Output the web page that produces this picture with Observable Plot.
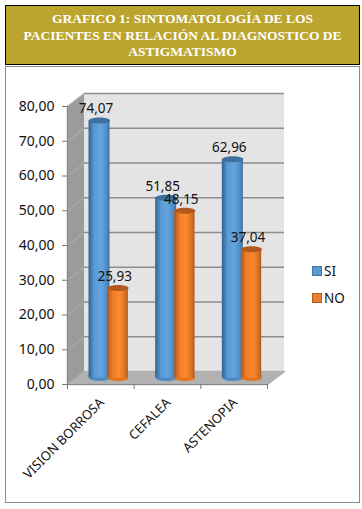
<!DOCTYPE html>
<html><head><meta charset="utf-8">
<script src="https://cdn.jsdelivr.net/npm/d3@7"></script>
<script src="https://cdn.jsdelivr.net/npm/@observablehq/plot@0.6"></script>
<style>
html,body{margin:0;padding:0;background:#fff;width:362px;height:509px;overflow:hidden}
#title{position:absolute;left:5px;top:5px;width:353px;height:53px;border:1px solid #000;background:#BCA52F;color:#fff;
 font:bold 13.5px/16.5px "Liberation Serif",serif;text-align:center;padding-top:5px;box-sizing:content-box}
#title div{white-space:nowrap}
#frame{position:absolute;left:5px;top:66px;width:353px;height:435px;border:1px solid #8a8a8a}
#frame svg{display:block;font-family:"Noto Sans",sans-serif}
.lg{position:absolute;left:306px;font:13.5px "Noto Sans",sans-serif;color:#111;display:flex;align-items:center;white-space:nowrap}
.lg i{display:inline-block;width:8px;height:8px;border:1px solid;margin-right:2px}
</style></head><body>
<div id="title"></div>
<div id="frame"></div>
<script>
const titleLines = ["GRAFICO 1: SINTOMATOLOGÍA DE LOS","PACIENTES EN RELACIÓN AL DIAGNOSTICO DE","ASTIGMATISMO"];
const categories = ["VISION BORROSA","CEFALEA","ASTENOPIA"];
const si = [74.07,51.85,62.96];
const no = [25.93,48.15,37.04];
const yTicks = [0,10,20,30,40,50,60,70,80];
const xTicks = [0,1,2,3];
const depthX = 0.255, depthY = 3.74;

const fmt = d => d.toFixed(2).replace(".",",");
const rows = categories.map((c,i)=>({c,i,si:si[i],no:no[i]}));
const ellipse = {draw(ctx){const a=10.5,b=3,kx=a*.5523,ky=b*.5523;
  ctx.moveTo(-a,0);ctx.bezierCurveTo(-a,-ky,-kx,-b,0,-b);ctx.bezierCurveTo(kx,-b,a,-ky,a,0);
  ctx.bezierCurveTo(a,ky,kx,b,0,b);ctx.bezierCurveTo(-kx,b,-a,ky,-a,0);ctx.closePath();}};
const sideWall = [[0,0],[0,80],[depthX,80+depthY],[depthX,depthY]];
const floor = [[0,0],[3,0],[3+depthX,depthY],[depthX,depthY]];
const diag = yTicks.flatMap(t=>[{x:0,y:t,t},{x:depthX,y:t+depthY,t}]);
const off = {dx:8.5,dy:-6.5};
const siX1=.195, siX2=.51, noX1=.48, noX2=.785;

const plot = Plot.plot({
  width:353,height:435,marginLeft:61,marginRight:92,marginTop:39,marginBottom:118,
  x:{type:"linear",domain:[0,3],axis:null},
  y:{type:"linear",domain:[0,80],axis:null},
  marks:[
    () => { const s=d3.create("svg:defs");
      const g=(id,stops)=>{const l=s.append("linearGradient").attr("id",id);
        stops.forEach(([o,c])=>l.append("stop").attr("offset",o).attr("stop-color",c));};
      g("gSI",[[0,"#2f6596"],[.1,"#3e76a8"],[.28,"#5a9bd6"],[.6,"#63a4e0"],[.88,"#4f8ac2"],[1,"#366c9e"]]);
      g("gNO",[[0,"#a8541c"],[.1,"#c9661f"],[.28,"#f17f28"],[.6,"#fb8a30"],[.88,"#d8701f"],[1,"#a8541c"]]);
      return s.node(); },
    Plot.line(sideWall,{x:d=>d[0],y:d=>d[1],fill:"#9b9b9b",stroke:"#9b9b9b",curve:"linear-closed"}),
    Plot.rect([0],{x1:depthX,x2:3+depthX,y1:depthY,y2:80+depthY,fill:"#e4e4e4"}),
    Plot.line(floor,{x:d=>d[0],y:d=>d[1],fill:"#b2b2b2",stroke:"#b2b2b2",curve:"linear-closed"}),
    Plot.line(diag,{x:"x",y:"y",z:"t",stroke:"#b0b0b0",strokeWidth:1}),
    Plot.ruleY(yTicks.slice(1),{x1:depthX,x2:3+depthX,y:d=>d+depthY,stroke:"#8e8e8e",strokeWidth:1.5}),
    Plot.ruleY([0],{x1:0,x2:3,stroke:"#868686",strokeWidth:1.2}),
    Plot.ruleX([0],{y1:0,y2:80,stroke:"#868686",strokeWidth:1}),
    Plot.axisY({ticks:yTicks,tickSize:5,tickPadding:8,tickFormat:fmt,fontSize:14,stroke:"#777",color:"#111",label:null}),
    Plot.axisX({ticks:xTicks,tickSize:5,tickFormat:()=>"",stroke:"#777",label:null}),
    // SI
    Plot.dot(rows,{x:d=>d.i+(siX1+siX2)/2,y:()=>0,symbol:ellipse,fill:"#4f8bc4",...off}),
    Plot.rect(rows,{x1:d=>d.i+siX1,x2:d=>d.i+siX2,y1:()=>0,y2:"si",fill:"url(#gSI)",...off}),
    Plot.dot(rows,{x:d=>d.i+(siX1+siX2)/2,y:"si",symbol:ellipse,fill:"#3d70a0",...off}),
    // NO
    Plot.dot(rows,{x:d=>d.i+(noX1+noX2)/2,y:()=>0,symbol:ellipse,fill:"#e5761f",...off}),
    Plot.rect(rows,{x1:d=>d.i+noX1,x2:d=>d.i+noX2,y1:()=>0,y2:"no",fill:"url(#gNO)",...off}),
    Plot.dot(rows,{x:d=>d.i+(noX1+noX2)/2,y:"no",symbol:ellipse,fill:"#b25a1e",...off}),
    // labels
    Plot.text(rows,{x:d=>d.i+(siX1+siX2)/2,y:"si",text:d=>fmt(d.si),dx:5,dy:-18,fontSize:13.5,fill:"#111"}),
    Plot.text(rows,{x:d=>d.i+(noX1+noX2)/2,y:"no",text:d=>fmt(d.no),dx:5,dy:-18,fontSize:13.5,fill:"#111"}),
    Plot.text(rows,{x:d=>d.i+.5,y:()=>0,text:"c",rotate:-45,textAnchor:"end",dx:1,dy:16,fontSize:13,fill:"#111"})
  ]
});
document.getElementById("frame").append(plot);
document.getElementById("title").innerHTML = titleLines.map(t=>`<div>${t}</div>`).join("");
const frame=document.getElementById("frame");
[["SI","#5b9bd5","#41719c",195],["NO","#ed7d31","#ae5a21",222]].forEach(([t,f,b,y])=>{
  const e=document.createElement("div");e.className="lg";e.style.top=y+"px";
  e.innerHTML=`<i style="background:${f};border-color:${b}"></i>${t}`;frame.append(e);
});
</script>
</body></html>
